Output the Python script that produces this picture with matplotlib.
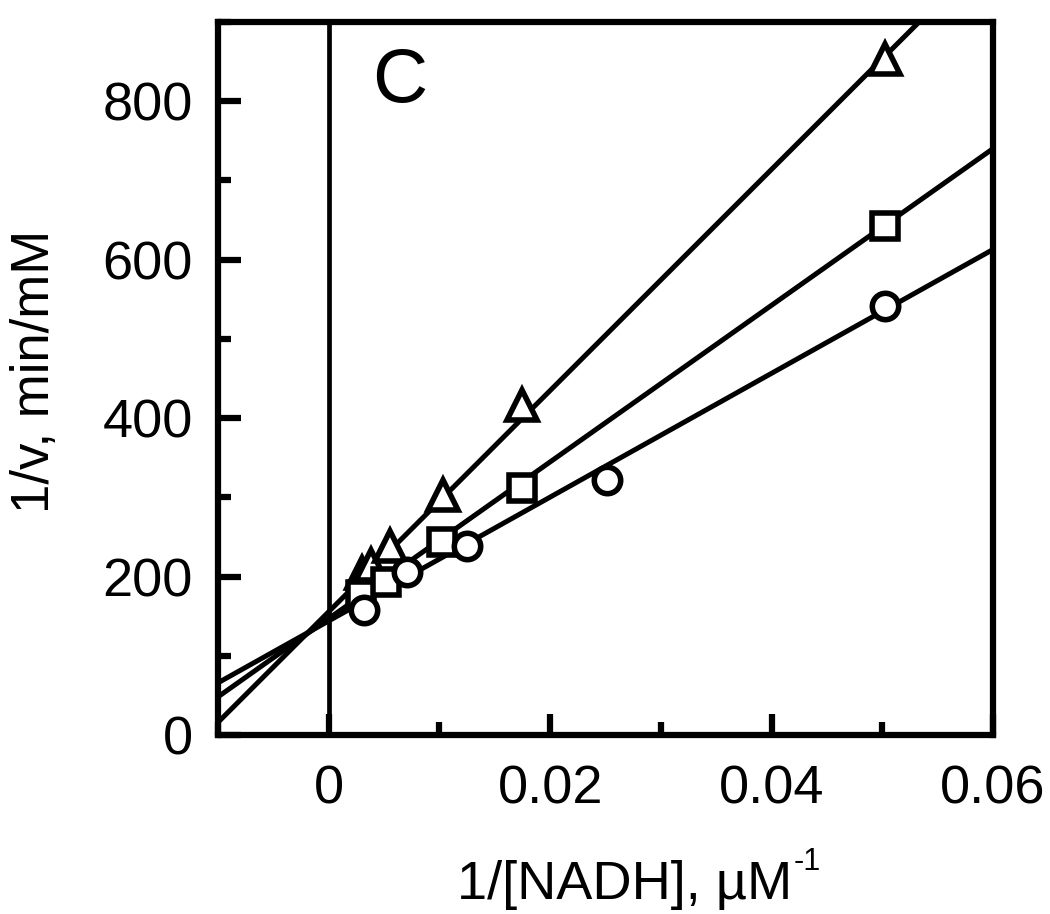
"""Lineweaver-Burk plot, panel C: 1/v against 1/[NADH]."""

import matplotlib

matplotlib.use("Agg")

import matplotlib.pyplot as plt
import numpy as np
from matplotlib.ticker import MultipleLocator

plt.rcParams["font.family"] = ["Liberation Sans", "DejaVu Sans"]

# data
x_tri = [0.0030, 0.0038, 0.0055, 0.0103, 0.0175, 0.0502]
y_tri = [205, 215, 238, 303, 417, 853]
x_sq = [0.0029, 0.0052, 0.0102, 0.0175, 0.0502]
y_sq = [177, 193, 244, 312, 642]
x_circ = [0.0032, 0.0071, 0.0125, 0.0251, 0.0502]
y_circ = [158, 206, 239, 322, 541]

# fitted lines (slope, intercept) as drawn in the figure
fit_slope = [13960, 9886, 7814]
fit_intercept = [155.6, 147, 144]

x_range = [-0.01, 0.06]
y_range = [0, 900]
x_ticks = [0, 0.02, 0.04, 0.06]
x_ticklabels = ["0", "0.02", "0.04", "0.06"]
y_ticks = [0, 200, 400, 600, 800]

fig = plt.figure(figsize=(10.5, 9.14), dpi=100)
ax = fig.add_axes([218 / 1050, 1 - 735 / 914, 775 / 1050, 713 / 914])

xx = np.array(x_range)
for m, b in zip(fit_slope, fit_intercept):
    ax.plot(xx, m * xx + b, color="black", lw=3.6, zorder=2)

ax.axvline(0, color="black", lw=3.4, zorder=1)

mk = dict(ls="none", mfc="white", mec="black", mew=4.0, zorder=3, clip_on=False)
ax.plot(x_tri, y_tri, marker="^", ms=21, **mk)
ax.plot(x_sq, y_sq, marker="s", ms=18.5, **mk)
ax.plot(x_circ, y_circ, marker="o", ms=19, **mk)

ax.set_xlim(*x_range)
ax.set_ylim(*y_range)
ax.set_xticks(x_ticks)
ax.set_xticklabels(x_ticklabels)
ax.xaxis.set_minor_locator(MultipleLocator(0.01))
ax.set_yticks(y_ticks)
ax.yaxis.set_minor_locator(MultipleLocator(100))

for s in ax.spines.values():
    s.set_linewidth(4.5)
ax.tick_params(which="both", direction="in", width=4.5, top=False, right=False,
               labelsize=39)
ax.tick_params(axis="x", which="major", length=15, pad=21)
ax.tick_params(axis="x", which="minor", length=9.5)
ax.tick_params(axis="y", which="major", length=16.5, pad=18)
ax.tick_params(axis="y", which="minor", length=9.5)

xlab = ax.set_xlabel("1/[NADH], µM", fontsize=39)
ax.set_ylabel("1/v, min/mM", fontsize=38)
ax.xaxis.set_label_coords(0.525, -0.21)
ax.xaxis.label.set_verticalalignment("center")
ax.yaxis.set_label_coords(-0.236, 0.51)
ax.yaxis.label.set_verticalalignment("center")
ax.annotate("-1", xy=(1.0, 0.95), xycoords=xlab, fontsize=22,
            ha="left", va="center", xytext=(1, 0), textcoords="offset points")

ax.text(0.234, 0.915, "C", transform=ax.transAxes, fontsize=55,
        ha="center", va="center")

fig.savefig("out.png", dpi=100)
